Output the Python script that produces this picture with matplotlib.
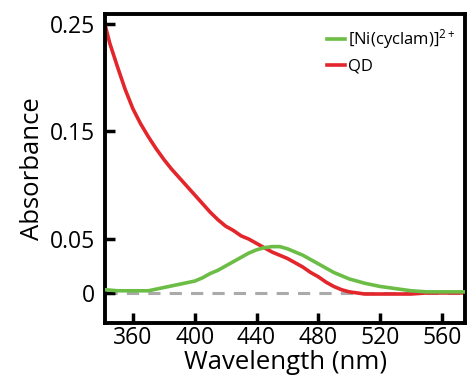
import numpy as np
import matplotlib.pyplot as plt

plt.rcParams['font.family'] = ['Open Sans', 'DejaVu Sans']
plt.rcParams['mathtext.fontset'] = 'custom'
plt.rcParams['mathtext.rm'] = 'Open Sans'
plt.rcParams['mathtext.it'] = 'Open Sans'
plt.rcParams['mathtext.default'] = 'rm'

# ----------------------------------------------------------------------
# Data
# ----------------------------------------------------------------------
qd_wl = [342, 345, 350, 355, 360, 365, 370, 375, 380, 385, 390, 395, 400,
         405, 410, 415, 420, 425, 430, 435, 440, 445, 450, 455, 460, 465,
         470, 475, 480, 485, 490, 495, 500, 505, 510, 520, 530, 540, 550,
         560, 575]
qd_abs = [0.249, 0.232, 0.210, 0.189, 0.171, 0.157, 0.145, 0.134, 0.124,
          0.115, 0.107, 0.099, 0.091, 0.083, 0.075, 0.068, 0.062, 0.058,
          0.053, 0.050, 0.046, 0.042, 0.038, 0.035, 0.032, 0.028, 0.024,
          0.019, 0.015, 0.010, 0.006, 0.003, 0.001, 0.000, -0.001, -0.001,
          -0.001, -0.001, 0.000, 0.000, 0.000]

ni_wl = [342, 350, 360, 370, 380, 390, 400, 405, 410, 415, 420, 425, 430,
         435, 440, 445, 450, 455, 460, 465, 470, 475, 480, 485, 490, 495,
         500, 510, 520, 530, 540, 550, 560, 575]
ni_abs = [0.003, 0.002, 0.002, 0.002, 0.005, 0.008, 0.011, 0.014, 0.018,
          0.021, 0.025, 0.029, 0.033, 0.037, 0.040, 0.042, 0.043, 0.043,
          0.041, 0.038, 0.035, 0.031, 0.027, 0.023, 0.019, 0.016, 0.013,
          0.009, 0.006, 0.004, 0.002, 0.001, 0.001, 0.001]

x_ticks = [360, 400, 440, 480, 520, 560]
y_ticks = [0, 0.05, 0.15, 0.25]
y_tick_labels = ['0', '0.05', '0.15', '0.25']

# ----------------------------------------------------------------------
# Plot
# ----------------------------------------------------------------------
fig = plt.figure(figsize=(4.67, 3.77), dpi=100)
ax = fig.add_axes([0.225, 0.143, 0.771, 0.820])

ax.axhline(0, color='#aaaaaa', lw=2.2, ls=(0, (4, 3)), zorder=1)
ax.plot(ni_wl, ni_abs, color='#6cbd45', lw=2.6, label='[Ni(cyclam)]$^{2+}$', zorder=3)
ax.plot(qd_wl, qd_abs, color='#e2262b', lw=2.6, label='QD', zorder=2)

ax.set_xlim(342, 575)
ax.set_ylim(-0.028, 0.259)
ax.set_xticks(x_ticks)
ax.set_yticks(y_ticks)
ax.set_yticklabels(y_tick_labels)

for s in ax.spines.values():
    s.set_linewidth(2.8)
ax.tick_params(direction='in', length=7, width=2.5, labelsize=16.5, pad=7)
ax.tick_params(axis='x', pad=2)

ax.set_xlabel('Wavelength (nm)', fontsize=18.5, labelpad=0)
ax.set_ylabel('Absorbance', fontsize=18.5, labelpad=4)

handles, labels = ax.get_legend_handles_labels()
ax.legend(handles, labels, loc='upper right', frameon=False, fontsize=12,
          handlelength=1.1, handletextpad=0.15, labelspacing=0.45,
          borderaxespad=0.2, bbox_to_anchor=(1.0, 0.99))

fig.savefig('out.png', dpi=100)
